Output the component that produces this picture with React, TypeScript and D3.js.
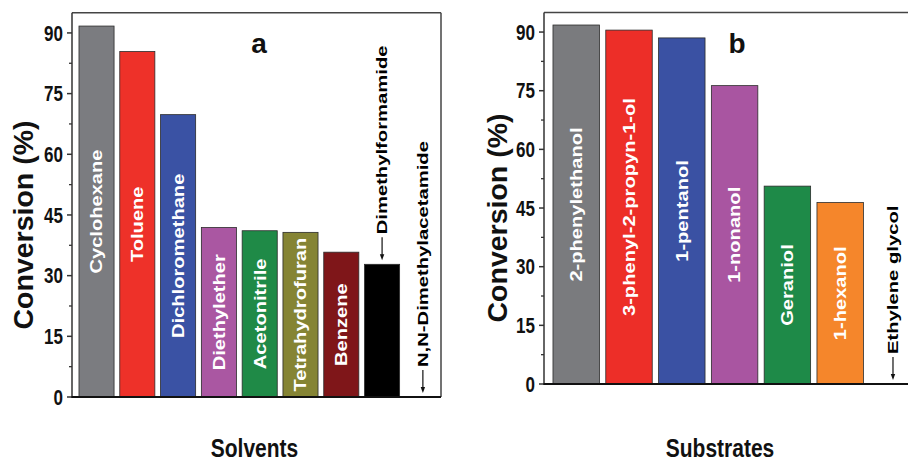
import * as d3 from "d3";

const solvents = [
  "Cyclohexane",
  "Toluene",
  "Dichloromethane",
  "Diethylether",
  "Acetonitrile",
  "Tetrahydrofuran",
  "Benzene",
  "Dimethylformamide",
  "N,N-Dimethylacetamide",
];
const solventConversion = [91.7, 85.4, 69.8, 41.9, 41.1, 40.7, 35.8, 32.8, 0];
const solventColors = ["#7b7c80", "#ee3129", "#3a52a4", "#aa57a2", "#1f8a47", "#858434", "#7f1619", "#000000", "#000000"];
const solventInside = [true, true, true, true, true, true, true, false, false];

const substrates = [
  "2-phenylethanol",
  "3-phenyl-2-propyn-1-ol",
  "1-pentanol",
  "1-nonanol",
  "Geraniol",
  "1-hexanol",
  "Ethylene glycol",
];
const substrateConversion = [91.8, 90.5, 88.5, 76.3, 50.6, 46.4, 0];
const substrateColors = ["#7a7b7e", "#ed2e28", "#3a51a3", "#a955a1", "#1e8a48", "#f5862b", "#000000"];
const substrateInside = [true, true, true, true, true, true, false];

const yTicks = [0, 15, 30, 45, 60, 75, 90];
const yMinorTicks = [7.5, 22.5, 37.5, 52.5, 67.5, 82.5];
const yMax = 95;

const width = 908;
const height = 461;
const font = "'Liberation Sans', Arial, Helvetica, sans-serif";

interface PanelProps {
  categories: string[];
  values: number[];
  colors: string[];
  inside: boolean[];
  letter: string;
  xTitle: string;
  box: { left: number; right: number; top: number; bottom: number };
  band: [number, number];
  padding: number;
  letterX: number;
  titleX: number;
  titleY: number;
}

function Panel({ categories, values, colors, inside, letter, xTitle, box, band, padding, letterX, titleX, titleY }: PanelProps) {
  const x = d3.scaleBand<string>().domain(categories).range(band).paddingInner(padding).paddingOuter(0.1);
  const y = d3.scaleLinear().domain([0, yMax]).range([box.bottom, box.top]);
  const rows = categories.map((name, i) => ({ name, value: values[i], color: colors[i], inside: inside[i] }));

  return (
    <g>
      {rows.map((row) => {
        const x0 = x(row.name) ?? 0;
        const cx = x0 + x.bandwidth() / 2;
        const yTop = y(row.value);
        return (
          <g key={row.name}>
            {row.value > 0 ? (
              <rect x={x0} y={yTop} width={x.bandwidth()} height={box.bottom - yTop} fill={row.color} stroke="#2b2b2b" strokeWidth={0.8} />
            ) : null}
            {row.inside ? (
              <text
                transform={`translate(${cx}, ${(yTop + box.bottom) / 2}) rotate(-90) scale(1.22, 1)`}
                textAnchor="middle"
                dominantBaseline="central"
                fill="#ffffff"
                fontSize={16.5}
                fontWeight="bold"
                fontFamily={font}
              >
                {row.name}
              </text>
            ) : (
              <g>
                <line x1={cx} x2={cx} y1={yTop - 27} y2={yTop - 9} stroke="#111" strokeWidth={1.2} />
                <path d={`M${cx - 2.2},${yTop - 10} L${cx + 2.2},${yTop - 10} L${cx},${yTop - 4} Z`} fill="#111" />
                <text
                  transform={`translate(${cx}, ${yTop - 30}) rotate(-90) scale(1.35, 1)`}
                  textAnchor="start"
                  dominantBaseline="central"
                  fill="#000"
                  fontSize={15}
                  fontWeight="bold"
                  fontFamily={font}
                >
                  {row.name}
                </text>
              </g>
            )}
          </g>
        );
      })}

      {/* frame */}
      <line x1={box.left} x2={box.right} y1={box.top} y2={box.top} stroke="#444" strokeWidth={1.5} />
      <line x1={box.right} x2={box.right} y1={box.top} y2={box.bottom} stroke="#444" strokeWidth={1.5} />
      <line x1={box.left} x2={box.left} y1={box.top} y2={box.bottom} stroke="#333" strokeWidth={1.5} />
      <line x1={box.left - 1} x2={box.right} y1={box.bottom} y2={box.bottom} stroke="#111" strokeWidth={2} />

      {yTicks.map((tick) => (
        <g key={`t-${tick}`}>
          <line x1={box.left - 5} x2={box.left} y1={y(tick)} y2={y(tick)} stroke="#333" strokeWidth={1.5} />
          <text
            transform={`translate(${box.left - 9}, ${y(tick)}) scale(1, 1.25)`}
            textAnchor="end"
            dy="0.36em"
            fontSize={17}
            fontWeight="bold"
            fontFamily={font}
            fill="#111"
          >
            {tick}
          </text>
        </g>
      ))}
      {yMinorTicks.map((tick) => (
        <line key={`m-${tick}`} x1={box.left - 3} x2={box.left} y1={y(tick)} y2={y(tick)} stroke="#333" strokeWidth={1.3} />
      ))}

      <text
        transform={`translate(${titleX}, ${titleY}) rotate(-90)`}
        textAnchor="middle"
        dominantBaseline="central"
        fontSize={28.5}
        fontWeight="bold"
        fontFamily={font}
        fill="#111"
      >
        Conversion (%)
      </text>
      <text
        transform={`translate(${(box.left + Math.min(box.right, 908)) / 2 + (letter === "a" ? -2 : -6)}, 457) scale(1, 1.2)`}
        textAnchor="middle"
        fontSize={21}
        fontWeight="bold"
        fontFamily={font}
        fill="#111"
      >
        {xTitle}
      </text>
      <text x={letterX} y={53} textAnchor="middle" fontSize={28} fontWeight="bold" fontFamily={font} fill="#111">
        {letter}
      </text>
    </g>
  );
}

export default function App() {
  return (
    <svg
      width={width}
      height={height}
      viewBox={`0 0 ${width} ${height}`}
      style={{ position: "absolute", left: 0, top: 0, background: "#fff", display: "block" }}
    >
      <Panel
        categories={solvents}
        values={solventConversion}
        colors={solventColors}
        inside={solventInside}
        letter="a"
        xTitle="Solvents"
        box={{ left: 72, right: 441, top: 12.7, bottom: 397 }}
        band={[74.9, 444.5]}
        padding={0.14}
        letterX={259}
        titleX={23}
        titleY={225}
      />
      <Panel
        categories={substrates}
        values={substrateConversion}
        colors={substrateColors}
        inside={substrateInside}
        letter="b"
        xTitle="Substrates"
        box={{ left: 544, right: 912, top: 12.5, bottom: 384 }}
        band={[547.7, 921.5]}
        padding={0.12}
        letterX={737}
        titleX={497}
        titleY={218}
      />
    </svg>
  );
}
